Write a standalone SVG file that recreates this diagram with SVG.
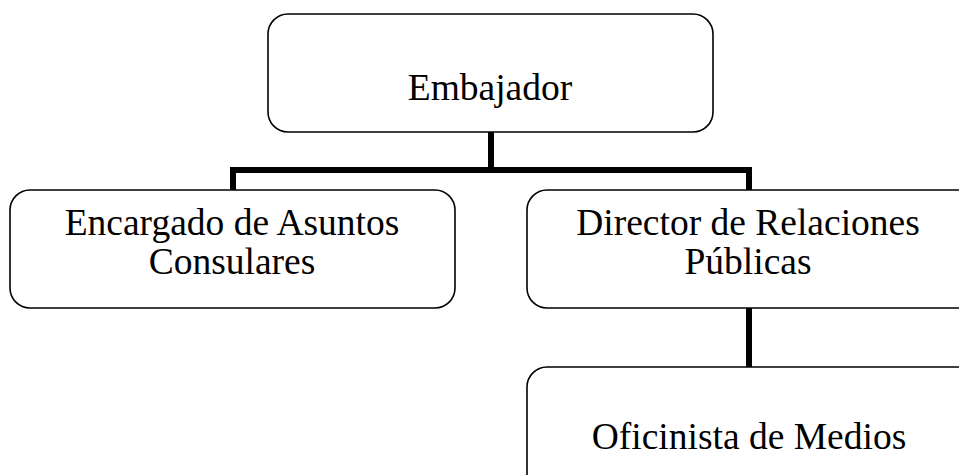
<svg xmlns="http://www.w3.org/2000/svg" width="959" height="475" viewBox="0 0 959 475">
<style>
.box{fill:#fff;stroke:#000;stroke-width:1.6}
.lbl{font-family:"Liberation Serif","Times New Roman",serif;font-size:37.5px;fill:#000;text-anchor:middle}
.conn{fill:none;stroke:#000;stroke-width:6}
</style>
<rect x="0" y="0" width="959" height="475" fill="#fff"/>
<g id="connectors">
<path class="conn" d="M491,132 V170"/>
<path class="conn" d="M233,190 V170 H749 V190"/>
<path class="conn" d="M749,308 V367"/>
</g>
<g id="embajador">
<rect class="box" x="268" y="14" width="445" height="118" rx="20"/>
<text class="lbl" x="490" y="100">Embajador</text>
</g>
<g id="encargado">
<rect class="box" x="10" y="190" width="445" height="118" rx="20"/>
<text class="lbl" x="232" y="235">Encargado de Asuntos</text>
<text class="lbl" x="232" y="274">Consulares</text>
</g>
<g id="director">
<rect class="box" x="527" y="190" width="460" height="118" rx="20"/>
<text class="lbl" x="748" y="235">Director de Relaciones</text>
<text class="lbl" x="748" y="274">Públicas</text>
</g>
<g id="oficinista">
<rect class="box" x="527" y="367" width="460" height="140" rx="20"/>
<text class="lbl" x="749" y="449">Oficinista de Medios</text>
</g>
</svg>
